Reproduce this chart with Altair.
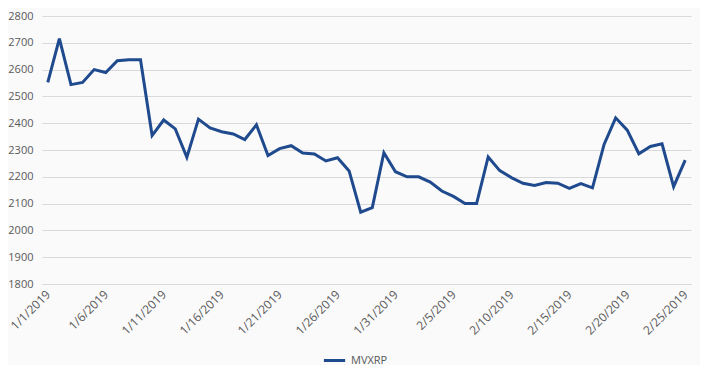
import altair as alt
import pandas as pd

start_date = "2019-01-01"
n_days = 56
values = [2552, 2716, 2544, 2552, 2600, 2589, 2633, 2637, 2637, 2354,
          2412, 2379, 2273, 2415, 2382, 2368, 2360, 2339, 2394, 2279,
          2305, 2316, 2289, 2285, 2259, 2271, 2222, 2068, 2085, 2290,
          2219, 2200, 2200, 2180, 2147, 2127, 2100, 2100, 2274, 2223,
          2197, 2176, 2168, 2179, 2176, 2157, 2175, 2159, 2321, 2420,
          2374, 2286, 2313, 2323, 2163, 2262]
series_name = "MVXRP"
tick_dates = ["2019-01-01", "2019-01-06", "2019-01-11", "2019-01-16", "2019-01-21",
              "2019-01-26", "2019-01-31", "2019-02-05", "2019-02-10", "2019-02-15",
              "2019-02-20", "2019-02-25"]

dates = pd.date_range(start_date, periods=n_days, freq="D")
df = pd.DataFrame({"date": dates.strftime("%Y-%m-%d"), "value": values, "series": series_name})

font = "Open Sans"
grey = "#595959"
line_color = "#1F4A8E"

tick_vals = [alt.DateTime(year=int(d[:4]), month=int(d[5:7]), date=int(d[8:10])) for d in tick_dates]

chart = alt.Chart(df).mark_line(strokeWidth=3, strokeJoin="miter").encode(
    x=alt.X("date:T",
            scale=alt.Scale(domain=[alt.DateTime(year=2018, month=12, date=31, hours=12),
                                    alt.DateTime(year=2019, month=2, date=25, hours=12)]),
            axis=alt.Axis(values=tick_vals, format="%-m/%-d/%Y", labelAngle=-45,
                          labelAlign="right", labelBaseline="middle",
                          title=None, grid=False, ticks=False, domain=True,
                          domainColor="#d9d9d9", labelFont=font, labelFontSize=12,
                          labelColor=grey, labelPadding=8, labelOverlap=False,
                          labelFlush=False)),
    y=alt.Y("value:Q",
            scale=alt.Scale(domain=[1800, 2800], nice=False, zero=False),
            axis=alt.Axis(values=list(range(1800, 2801, 100)), format="d", title=None,
                          ticks=False, domain=False, gridColor="#d9d9d9", gridWidth=1,
                          labelFont=font, labelFontSize=11, labelColor=grey,
                          labelPadding=9)),
    color=alt.Color("series:N",
                    scale=alt.Scale(range=[line_color]),
                    legend=alt.Legend(orient="none", legendX=280, legendY=332,
                                      title=None, symbolType="stroke", symbolStrokeWidth=3,
                                      symbolSize=450, labelFont=font, labelFontSize=11,
                                      labelColor=grey, direction="horizontal")),
).properties(
    width=649, height=268,
    autosize=alt.AutoSizeParams(type="none"),
    padding={"left": 34, "top": 8, "right": 9, "bottom": 81},
    background="#fafafa",
).configure_view(stroke=None)

chart.save("out.html", embed_options={"renderer": "svg", "actions": False})
